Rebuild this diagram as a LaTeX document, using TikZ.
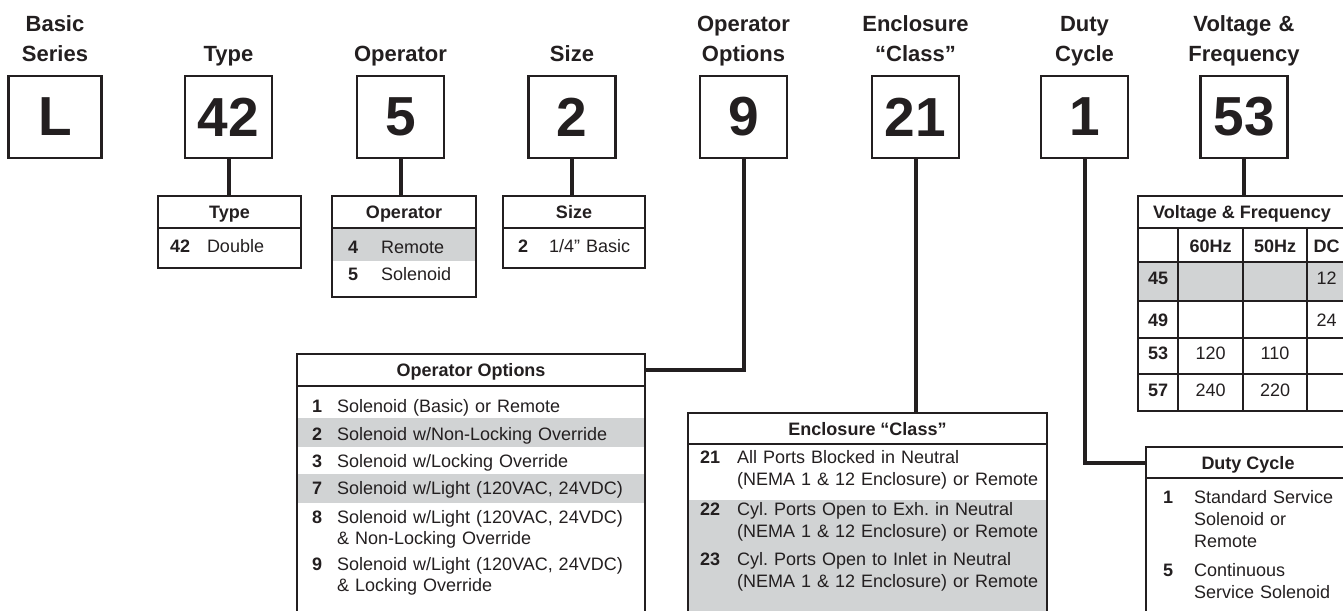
\documentclass[tikz,border=0pt]{standalone}
\usepackage{fontspec}
\setmainfont{Liberation Sans}
\frenchspacing
\definecolor{ink}{RGB}{35,31,32}
\definecolor{lgray}{RGB}{209,211,212}
\begin{document}
\begin{tikzpicture}[x=1pt,y=-1pt,
 every node/.style={inner sep=0pt,outer sep=0pt,text=ink},
 numbox/.style={draw=ink,line width=2.2pt,minimum width=87pt,minimum height=82pt,font=\fontsize{55}{55}\selectfont\bfseries},
 toplbl/.style={anchor=base,text width=170pt,align=center,font=\fontsize{22}{29}\selectfont\bfseries},
 frame/.style={draw=ink,line width=2pt},
 hcell/.style={anchor=north west,minimum height=32pt,text height=13pt,text depth=0pt,font=\fontsize{18}{22}\selectfont\bfseries},
 conn/.style={draw=ink,line width=4pt},
 num/.style={anchor=base west,font=\fontsize{18}{22}\selectfont\bfseries},
 txt/.style={anchor=base west,text width=420pt,align=left,font=\fontsize{18}{22}\selectfont},
 ctxt/.style={anchor=base,font=\fontsize{18}{22}\selectfont},
 cnum/.style={anchor=base,font=\fontsize{18}{22}\selectfont\bfseries}]
\useasboundingbox (0,0) rectangle (1343,610);
\clip (0,0) rectangle (1343,610);

% ---------- top labels ----------
\node[toplbl] (lL)  at (55,32)     {Basic\\Series};
\node[toplbl] (l42) at (228.5,61)  {Type};
\node[toplbl] (l5)  at (400.5,61)  {Operator};
\node[toplbl] (l2)  at (572,61)    {Size};
\node[toplbl] (l9)  at (743.5,32)  {Operator\\Options};
\node[toplbl] (l21) at (915.5,32)  {Enclosure\\“Class”};
\node[toplbl] (l1)  at (1084.5,32) {Duty\\Cycle};
\node[toplbl] (l53) at (1244,32)   {Voltage \&\\Frequency};

% ---------- code boxes ----------
\node[numbox,minimum width=93pt] (bL) at (55,117) {L};
\node[numbox] (b42) at (228.5,117) {42};
\node[numbox] (b5)  at (400.5,117) {5};
\node[numbox] (b2)  at (572,117)   {2};
\node[numbox] (b9)  at (743.5,117) {9};
\node[numbox] (b21) at (915.5,117) {21};
\node[numbox] (b1)  at (1084.5,117) {1};
\node[numbox] (b53) at (1244,117)  {53};

% ---------- shading ----------
\fill[lgray] (332,228) rectangle (476,261);
\fill[lgray] (1138,262) rectangle (1346,301);
\fill[lgray] (297,418) rectangle (645,447);
\fill[lgray] (297,474) rectangle (645,503);
\fill[lgray] (688,500) rectangle (1047,630);

% ---------- table headers ----------
\node[hcell,minimum width=143pt] (hType) at (158,196) {Type};
\node[hcell,minimum width=144pt] (hOp) at (332,196) {Operator};
\node[hcell,minimum width=142pt] (hSize) at (503,196) {Size};
\node[hcell,minimum width=208pt] (hVF) at (1138,196) {Voltage \& Frequency};
\node[hcell,minimum width=348pt] (hOO) at (297,354) {Operator Options};
\node[hcell,minimum width=359pt,minimum height=31pt] (hEnc) at (688,413) {Enclosure “Class”};
\node[hcell,minimum width=204pt,minimum height=31pt] (hDuty) at (1146,447) {Duty Cycle};

% ---------- frames ----------
\draw[frame] (158,196) rectangle (301,268) (158,228) -- (301,228);
\draw[frame] (332,196) rectangle (476,297) (332,228) -- (476,228);
\draw[frame] (503,196) rectangle (645,268) (503,228) -- (645,228);
\draw[frame] (1138,196) rectangle (1346,411);
\draw[frame] (1138,228) -- (1346,228) (1138,262) -- (1346,262) (1138,301) -- (1346,301)
  (1138,338) -- (1346,338) (1138,374) -- (1346,374)
  (1178,228) -- (1178,411) (1243,228) -- (1243,411) (1307,228) -- (1307,411);
\draw[frame] (297,354) rectangle (645,640) (297,386) -- (645,386);
\draw[frame] (688,413) rectangle (1047,640) (688,444) -- (1047,444);
\draw[frame] (1146,447) rectangle (1350,640) (1146,478) -- (1350,478);

% ---------- connectors ----------
\draw[conn] (b42.south) -- (b42.south |- hType.north);
\draw[conn] (b5.south) -- (b5.south |- hOp.north);
\draw[conn] (b2.south) -- (b2.south |- hSize.north);
\draw[conn] (b53.south) -- (b53.south |- hVF.north);
\draw[conn] (b21.south) -- (b21.south |- hEnc.north);
\draw[conn] (b9.south) |- (hOO.east);
\draw[conn] (b1.south) |- (hDuty.west);

% ---------- Type / Operator / Size rows ----------
\node[num] (t42) at (170,252) {42};
\node[txt] (t42t) at (207,252) {Double};
\node[num] (o4) at (348,253) {4};
\node[txt] (o4t) at (381,253) {Remote};
\node[num] (o5) at (348,280) {5};
\node[txt] (o5t) at (381,280) {Solenoid};
\node[num] (s2) at (518,252) {2};
\node[txt] (s2t) at (549,252) {1/4\symbol{34} Basic};

% ---------- Voltage & Frequency ----------
\node[cnum] (vh1) at (1210.5,252) {60Hz};
\node[cnum] (vh2) at (1275,252) {50Hz};
\node[cnum] (vh3) at (1326.5,252) {DC};
\node[cnum] (v45) at (1158,284) {45};
\node[ctxt] (v45d) at (1326.5,284) {12};
\node[cnum] (v49) at (1158,326) {49};
\node[ctxt] (v49d) at (1326.5,326) {24};
\node[cnum] (v53) at (1158,359) {53};
\node[ctxt] (v53a) at (1210.5,359) {120};
\node[ctxt] (v53b) at (1275,359) {110};
\node[cnum] (v57) at (1158,396) {57};
\node[ctxt] (v57a) at (1210.5,396) {240};
\node[ctxt] (v57b) at (1275,396) {220};

% ---------- Operator Options rows ----------
\node[num] (p1) at (312,412) {1};
\node[txt] (p1t) at (337,412) {Solenoid (Basic) or Remote};
\node[num] (p2) at (312,440) {2};
\node[txt] (p2t) at (337,440) {Solenoid w/Non-Locking Override};
\node[num] (p3) at (312,467) {3};
\node[txt] (p3t) at (337,467) {Solenoid w/Locking Override};
\node[num] (p7) at (312,494) {7};
\node[txt] (p7t) at (337,494) {Solenoid w/Light (120VAC, 24VDC)};
\node[num] (p8) at (312,523) {8};
\node[txt,font=\fontsize{18}{21}\selectfont] (p8t) at (337,523) {Solenoid w/Light (120VAC, 24VDC)\\\& Non-Locking Override};
\node[num] (p9) at (312,570) {9};
\node[txt,font=\fontsize{18}{21.5}\selectfont] (p9t) at (337,570) {Solenoid w/Light (120VAC, 24VDC)\\\& Locking Override};

% ---------- Enclosure rows ----------
\node[num] (e21) at (700,463) {21};
\node[txt] (e21t) at (737,463) {All Ports Blocked in Neutral\\(NEMA 1 \& 12 Enclosure) or Remote};
\node[num] (e22) at (700,515) {22};
\node[txt] (e22t) at (737,515) {Cyl. Ports Open to Exh. in Neutral\\(NEMA 1 \& 12 Enclosure) or Remote};
\node[num] (e23) at (700,565) {23};
\node[txt] (e23t) at (737,565) {Cyl. Ports Open to Inlet in Neutral\\(NEMA 1 \& 12 Enclosure) or Remote};

% ---------- Duty Cycle rows ----------
\node[num] (d1) at (1163,503) {1};
\node[txt] (d1t) at (1194,503) {Standard Service\\Solenoid or\\Remote};
\node[num] (d5) at (1163,576) {5};
\node[txt] (d5t) at (1194,576) {Continuous\\Service Solenoid};
\end{tikzpicture}
\end{document}
